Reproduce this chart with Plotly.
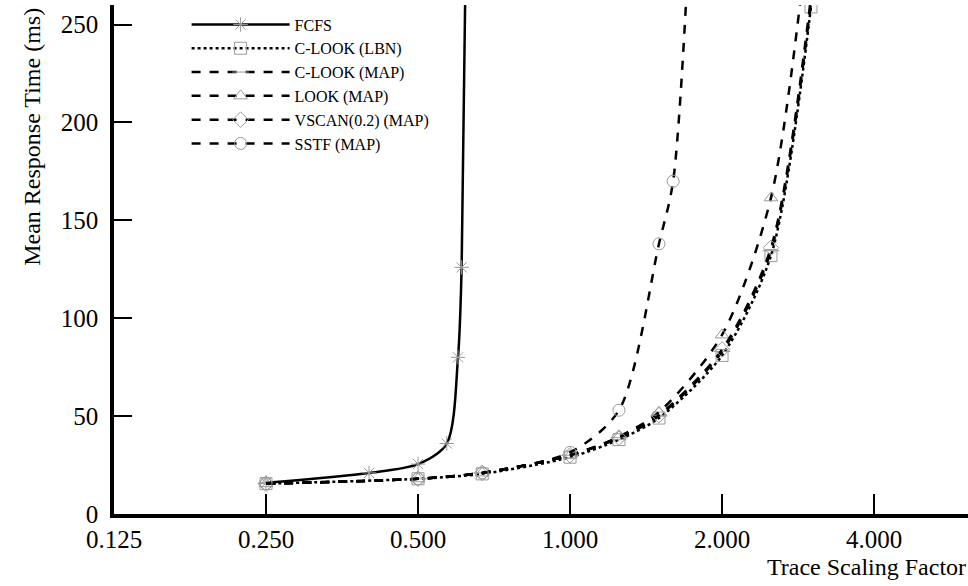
import numpy as np
import plotly.graph_objects as go

# ---- data ----
fcfs_x = [0.25, 0.40, 0.50, 0.57, 0.60, 0.61, 0.63]
fcfs_y = [16.0, 21.0, 25.5, 36.0, 80.0, 126.0, 400.0]

common_x = [0.25, 0.50, 0.67, 1.00, 1.25, 1.50, 2.00, 2.50, 3.00]
clook_lbn_y = [15.5, 18.0, 20.5, 29.0, 38.0, 49.0, 81.0, 132.0, 259.0]
clook_map_y = [15.5, 18.0, 21.0, 30.0, 39.0, 50.0, 83.0, 134.5, 261.0]
look_map_y = [15.5, 18.0, 21.0, 30.0, 39.5, 52.0, 91.5, 161.5, 310.0]
vscan_map_y = [15.5, 18.0, 21.0, 30.0, 39.0, 50.5, 84.0, 136.0, 264.0]

sstf_x = [0.25, 0.50, 0.67, 1.00, 1.25, 1.50, 1.60, 1.75]
sstf_y = [15.5, 18.0, 21.0, 31.5, 53.0, 138.0, 170.0, 330.0]

x_ticks = [0.125, 0.25, 0.5, 1.0, 2.0, 4.0]
x_tick_labels = ["0.125", "0.250", "0.500", "1.000", "2.000", "4.000"]
y_ticks = [0, 50, 100, 150, 200, 250]

series = [
    ("FCFS", fcfs_x, fcfs_y, "asterisk-open", "solid"),
    ("C-LOOK (LBN)", common_x, clook_lbn_y, "square-open", "dot"),
    ("C-LOOK (MAP)", common_x, clook_map_y, "line-ew-open", "dash"),
    ("LOOK (MAP)", common_x, look_map_y, "triangle-up-open", "dash"),
    ("VSCAN(0.2) (MAP)", common_x, vscan_map_y, "diamond-open", "dash"),
    ("SSTF (MAP)", sstf_x, sstf_y, "circle-open", "dash"),
]

FONT = "Liberation Serif, Times New Roman, serif"
MARK = "#9a9a9a"

fig = go.Figure()
for name, xs, ys, sym, dash in series:
    fig.add_trace(go.Scatter(
        x=xs, y=ys, name=name, mode="lines+markers",
        line=dict(color="black", width=2.5, dash=dash, shape="spline", smoothing=0.8),
        marker=dict(symbol=sym, size=12, color=MARK, line=dict(color=MARK, width=1)),
        cliponaxis=True,
    ))

fig.update_layout(
    width=968, height=586,
    margin=dict(l=114, r=0, t=5, b=72),
    paper_bgcolor="white", plot_bgcolor="white",
    font=dict(family=FONT, color="black", size=24),
    showlegend=True,
    legend=dict(
        x=0.085, y=0.995, xanchor="left", yanchor="top",
        bgcolor="rgba(0,0,0,0)", font=dict(size=16, family=FONT),
        itemwidth=98, tracegroupgap=0,
    ),
    xaxis=dict(
        type="log",
        range=[np.log10(0.125), np.log10(0.125) + 5.618 * np.log10(2)],
        tickvals=x_ticks, ticktext=x_tick_labels,
        showline=True, linewidth=3.5, linecolor="black",
        ticks="inside", ticklen=20, tickwidth=2, tickcolor="black",
        showgrid=False, zeroline=False,
        tickfont=dict(size=25, family=FONT),
        ticklabelstandoff=0,
    ),
    yaxis=dict(
        range=[0, 260],
        tickvals=y_ticks,
        showline=True, linewidth=3.5, linecolor="black",
        ticks="inside", ticklen=18, tickwidth=2, tickcolor="black",
        showgrid=False, zeroline=False,
        tickfont=dict(size=25, family=FONT),
        ticklabelstandoff=7,
    ),
    annotations=[
        dict(text="Trace Scaling Factor", xref="paper", yref="paper",
             x=1.0, y=-0.105, xanchor="right", yanchor="middle",
             showarrow=False, font=dict(size=24, family=FONT)),
        dict(text="Mean Response Time (ms)", xref="paper", yref="paper",
             x=-0.096, y=0.741, xanchor="center", yanchor="middle", textangle=-90,
             showarrow=False, font=dict(size=24, family=FONT)),
    ],
)

fig.write_html("out.html")
